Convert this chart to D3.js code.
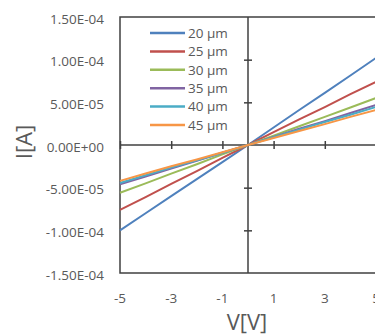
<!DOCTYPE html>
<html><head><meta charset="utf-8">
<script src="https://cdn.jsdelivr.net/npm/d3@7"></script>
<style>body{margin:0;background:#fff}svg{display:block}</style>
</head><body><svg id="c" width="375" height="336"></svg>
<script>
const voltages = [-5,-4,-3,-2,-1,0,1,2,3,4,5];
const seriesNames = ["20 µm","25 µm","30 µm","35 µm","40 µm","45 µm"];
const colors = ["#4F81BD","#C0504D","#9BBB59","#8064A2","#4BACC6","#F79646"];
const i20 = [-1.00e-4,-8.0e-5,-6.0e-5,-4.0e-5,-2.0e-5,0,2.05e-5,4.1e-5,6.1e-5,8.15e-5,1.02e-4];
const i25 = [-7.6e-5,-6.1e-5,-4.55e-5,-3.05e-5,-1.5e-5,0,1.5e-5,3.0e-5,4.45e-5,5.95e-5,7.4e-5];
const i30 = [-5.6e-5,-4.5e-5,-3.35e-5,-2.25e-5,-1.1e-5,0,1.1e-5,2.2e-5,3.3e-5,4.4e-5,5.5e-5];
const i35 = [-4.6e-5,-3.7e-5,-2.75e-5,-1.85e-5,-0.9e-5,0,0.95e-5,1.9e-5,2.8e-5,3.75e-5,4.7e-5];
const i40 = [-4.45e-5,-3.55e-5,-2.65e-5,-1.8e-5,-0.9e-5,0,0.9e-5,1.8e-5,2.7e-5,3.55e-5,4.45e-5];
const i45 = [-4.2e-5,-3.35e-5,-2.5e-5,-1.7e-5,-0.85e-5,0,0.82e-5,1.65e-5,2.45e-5,3.3e-5,4.1e-5];
const allSeries = [i20,i25,i30,i35,i40,i45];
const xTicks = [-5,-3,-1,1,3,5];
const yTicks = [-1.5e-4,-1e-4,-5e-5,0,5e-5,1e-4,1.5e-4];
const yTickLabels = ["-1.50E-04","-1.00E-04","-5.00E-05","0.00E+00","5.00E-05","1.00E-04","1.50E-04"];

const svg = d3.select("#c");
const font = "'Open Sans', 'Liberation Sans', sans-serif";
const L = 120, R = 376, T = 17, B = 273;
const x = d3.scaleLinear().domain([-5,5]).range([L,R]);
const y = d3.scaleLinear().domain([-1.5e-4,1.5e-4]).range([B,T]);
const axisCol = "#404040", textCol = "#595959";

// frame
svg.append("path").attr("d",`M${R},${T}H${L}V${B}H${R}`).attr("fill","none").attr("stroke",axisCol).attr("stroke-width",1.5);

// zero axes with cross ticks
const gx = svg.append("g").attr("transform",`translate(0,${y(0)})`)
  .call(d3.axisBottom(x).tickValues(xTicks).tickSizeInner(4).tickSizeOuter(0).tickFormat(""));
gx.select(".domain").remove();
gx.selectAll(".tick line").attr("y1",-4).attr("y2",4).attr("stroke",axisCol).attr("stroke-width",1.5);
svg.append("line").attr("x1",L).attr("x2",R).attr("y1",y(0)).attr("y2",y(0)).attr("stroke",axisCol).attr("stroke-width",1.5);

const gy = svg.append("g").attr("transform",`translate(${x(0)},0)`)
  .call(d3.axisLeft(y).tickValues(yTicks.filter(v=>v!==0 && Math.abs(v)<1.4e-4)).tickSizeOuter(0).tickFormat(""));
gy.select(".domain").remove();
gy.selectAll(".tick line").attr("x1",-4).attr("x2",4).attr("stroke",axisCol).attr("stroke-width",1.5);
svg.append("line").attr("x1",x(0)).attr("x2",x(0)).attr("y1",T).attr("y2",B).attr("stroke",axisCol).attr("stroke-width",1.5);

// tick labels
svg.append("g").selectAll("text").data(yTicks).join("text")
  .attr("x",104).attr("y",d=>y(d)+2).attr("dy","0.35em").attr("text-anchor","end")
  .attr("font-family",font).attr("font-size",13.5).attr("fill",textCol)
  .text((d,i)=>yTickLabels[i]);
svg.append("g").selectAll("text").data(xTicks).join("text")
  .attr("x",d=>x(d)).attr("y",298).attr("dy","0.35em").attr("text-anchor","middle")
  .attr("font-family",font).attr("font-size",13.5).attr("fill",textCol)
  .text(d=>d);

// axis titles
svg.append("text").attr("transform",`translate(32,142) rotate(-90)`).attr("text-anchor","middle")
  .attr("font-family",font).attr("font-size",22).attr("fill",textCol).text("I[A]");
svg.append("text").attr("x",247).attr("y",330).attr("text-anchor","middle")
  .attr("font-family",font).attr("font-size",22).attr("fill",textCol).text("V[V]");

// lines
const line = d3.line().x((d,i)=>x(voltages[i])).y(d=>y(d));
svg.append("g").selectAll("path").data(allSeries).join("path")
  .attr("d",line).attr("fill","none").attr("stroke",(d,i)=>colors[i]).attr("stroke-width",2);

// legend
const lg = svg.append("g").selectAll("g").data(seriesNames).join("g")
  .attr("transform",(d,i)=>`translate(150,${33+i*18.4})`);
lg.append("line").attr("x1",0).attr("x2",35).attr("stroke",(d,i)=>colors[i]).attr("stroke-width",2.5);
lg.append("text").attr("x",38).attr("dy","0.35em").attr("font-family",font).attr("font-size",13.5)
  .attr("fill",textCol).text(d=>d);
</script></body></html>
